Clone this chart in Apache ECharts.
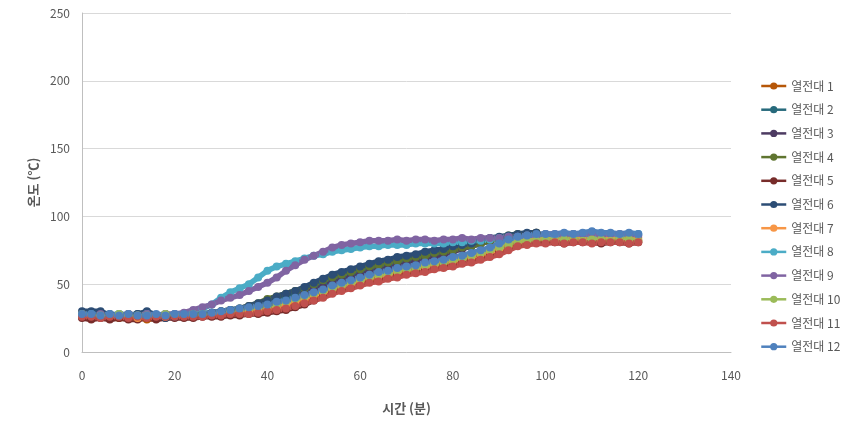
<!DOCTYPE html>
<html>
<head>
<meta charset="utf-8">
<script src="https://cdn.jsdelivr.net/npm/echarts@6/dist/echarts.min.js"></script>
<style>
  html, body { margin: 0; padding: 0; background: #fff; }
  #chart { width: 856px; height: 421px; }
</style>
</head>
<body>
<div id="chart"></div>
<script>
// time in minutes, sampled every 2 min
const times = [0,2,4,6,8,10,12,14,16,18,20,22,24,26,28,30,32,34,36,38,40,42,44,46,48,50,52,54,56,58,60,62,64,66,68,70,72,74,76,78,80,82,84,86,88,90,92,94,96,98,100,102,104,106,108,110,112,114,116,118,120];

const seriesNames = ["열전대 1","열전대 2","열전대 3","열전대 4","열전대 5","열전대 6","열전대 7","열전대 8","열전대 9","열전대 10","열전대 11","열전대 12"];
const seriesColors = ["#B65708","#276A7C","#4D3B62","#5F7530","#772C2A","#2C4D75","#F79646","#4BACC6","#8064A2","#9BBB59","#C0504D","#4F81BD"];

const tc1 = [26,26,27,26,25,26,26,24,25,26,26, 26,26,27,27,27,28,28,29,29,30,31, 33,35,37,40,42,45,47,49,51,53,55,56,58,59,61,62,63,65,66,68,69,71,73,75,78,80,81,82, 82,83,82,83,83,82,83,82,83,83,82];
const tc2 = [27,28,27,28,27,27,28,27,27,28,27, 27,27,28,28,29,30,31,32,33,35,37, 39,42,45,48,50,53,55,57,59,61,63,64,66,67,69,70,72,74,76,78,80,82,83,84,85,86,86,87];
const tc3 = [26,27,26,27,26,26,27,26,27,26,26, 26,27,27,28,28,29,30,31,32,33,35, 37,40,43,46,48,51,53,55,57,59,61,62,64,65,67,68,70,72,74,76,78,80,82,84,85,86,87,88];
const tc4 = [28,27,28,27,27,28,27,26,27,27,27, 27,28,28,29,30,31,32,34,36,39,41, 43,45,47,50,53,55,57,59,61,63,64,66,67,69,70,71,73,74,75,77,78,80,82,84,86,87,87,88];
const tc5 = [25,24,25,24,25,24,24,25,24,25,25, 25,25,26,26,26,27,27,28,28,29,30, 31,33,35,38,41,44,46,48,50,52,54,55,57,58,60,61,62,64,65,66,68,70,72,74,77,79,80,81, 81,81,80,81,81,81,80,81,81,80,81];
const tc6 = [30,30,30,27,28,27,28,30,27,25,26, 27,28,28,29,30,31,32,34,36,38,41, 43,45,48,51,54,57,59,61,63,65,67,68,70,71,72,74,75,76,78,79,80,82,84,85,86,87,88,88];
const tc7 = [27,27,26,27,27,26,25,26,27,26,27, 27,27,27,28,28,29,30,30,31,32,33, 35,37,39,42,44,46,48,50,52,54,56,57,59,60,62,63,64,66,67,69,70,72,74,76,78,81,82,83, 83,83,84,83,83,84,83,84,83,83,84];
const tc8 = [27,28,27,27,28,27,27,28,27,27,28, 28,30,32,35,40,44,47,50,55,60,63, 65,67,69,71,72,74,75,76,77,78,78,79,79,79,80,80,80,80,81,81,82,82,83,84,85,85,86,86, 87,86,87,87,87,86,87,87,86,87,87];
const tc9 = [28,27,28,27,27,28,27,28,27,28,28, 29,31,33,35,38,40,42,45,48,51,55, 60,64,68,71,74,77,79,80,81,82,82,82,83,82,83,83,82,83,83,84,83,84,84,84,85,85,86,86, 87,87,86,87,87,87,86,87,87,87,86];
const tc10 = [28,27,27,27,28,27,27,27,27,28,27, 27,28,28,28,29,30,31,32,33,34,35, 37,39,41,43,45,47,49,51,53,55,57,58,60,61,62,64,65,66,68,69,71,73,75,77,79,81,82,82, 83,82,83,83,82,83,83,82,83,83,82];
const tc11 = [26,26,25,26,26,25,26,25,26,26,26, 26,26,26,27,27,28,28,28,29,30,31, 32,34,36,38,40,43,45,47,49,51,52,54,55,57,58,59,61,62,63,65,66,68,70,72,75,78,79,80, 80,81,80,81,81,80,81,81,81,80,81];
const tc12 = [28,28,27,28,27,28,27,27,28,27,28, 28,28,28,29,30,31,32,33,34,35,37, 38,40,42,44,46,49,51,53,55,57,59,60,62,63,64,66,67,68,70,71,73,75,77,80,83,85,86,87, 87,87,88,87,88,89,88,88,87,88,87];

const allValues = [tc1,tc2,tc3,tc4,tc5,tc6,tc7,tc8,tc9,tc10,tc11,tc12];

const font = '"Noto Sans CJK KR", "Noto Sans", sans-serif';

const chart = echarts.init(document.getElementById('chart'), null, { renderer: 'canvas' });

const series = allValues.map((vals, k) => ({
  name: seriesNames[k],
  type: 'line',
  data: vals.map((v, i) => [times[i], v]),
  symbol: 'circle',
  symbolSize: 8,
  showAllSymbol: true,
  color: seriesColors[k],
  lineStyle: { width: 5.5, color: seriesColors[k] },
  itemStyle: { color: seriesColors[k] },
  emphasis: { disabled: true }
}));

chart.setOption({
  animation: false,
  textStyle: { fontFamily: font },
  grid: { left: 82, right: 125, top: 13, bottom: 69 },
  legend: {
    orient: 'vertical',
    left: 755,
    top: 75,
    itemWidth: 25,
    itemHeight: 9,
    itemGap: 11.7,
    textStyle: { color: '#595959', fontSize: 12, fontFamily: font },
    itemStyle: { borderWidth: 0 },
    lineStyle: { width: 2.5 },
    data: seriesNames
  },
  xAxis: {
    type: 'value',
    min: 0,
    max: 140,
    interval: 20,
    name: '시간 (분)',
    nameLocation: 'middle',
    nameGap: 50,
    nameTextStyle: { color: '#595959', fontSize: 13, fontWeight: 'bold', fontFamily: font },
    axisLine: { show: true, lineStyle: { color: '#BFBFBF', width: 1 } },
    axisTick: { show: false },
    splitLine: { show: false },
    axisLabel: { color: '#595959', fontSize: 12, margin: 17 }
  },
  yAxis: {
    type: 'value',
    min: 0,
    max: 250,
    interval: 50,
    name: '온도 (℃)',
    nameLocation: 'middle',
    nameGap: 42,
    nameTextStyle: { color: '#595959', fontSize: 13, fontWeight: 'bold', fontFamily: font },
    axisLine: { show: true, lineStyle: { color: '#BFBFBF', width: 1 } },
    axisTick: { show: false },
    splitLine: { show: true, lineStyle: { color: '#D9D9D9', width: 1 } },
    axisLabel: { color: '#595959', fontSize: 12, margin: 12 }
  },
  series: series
});
</script>
</body>
</html>
